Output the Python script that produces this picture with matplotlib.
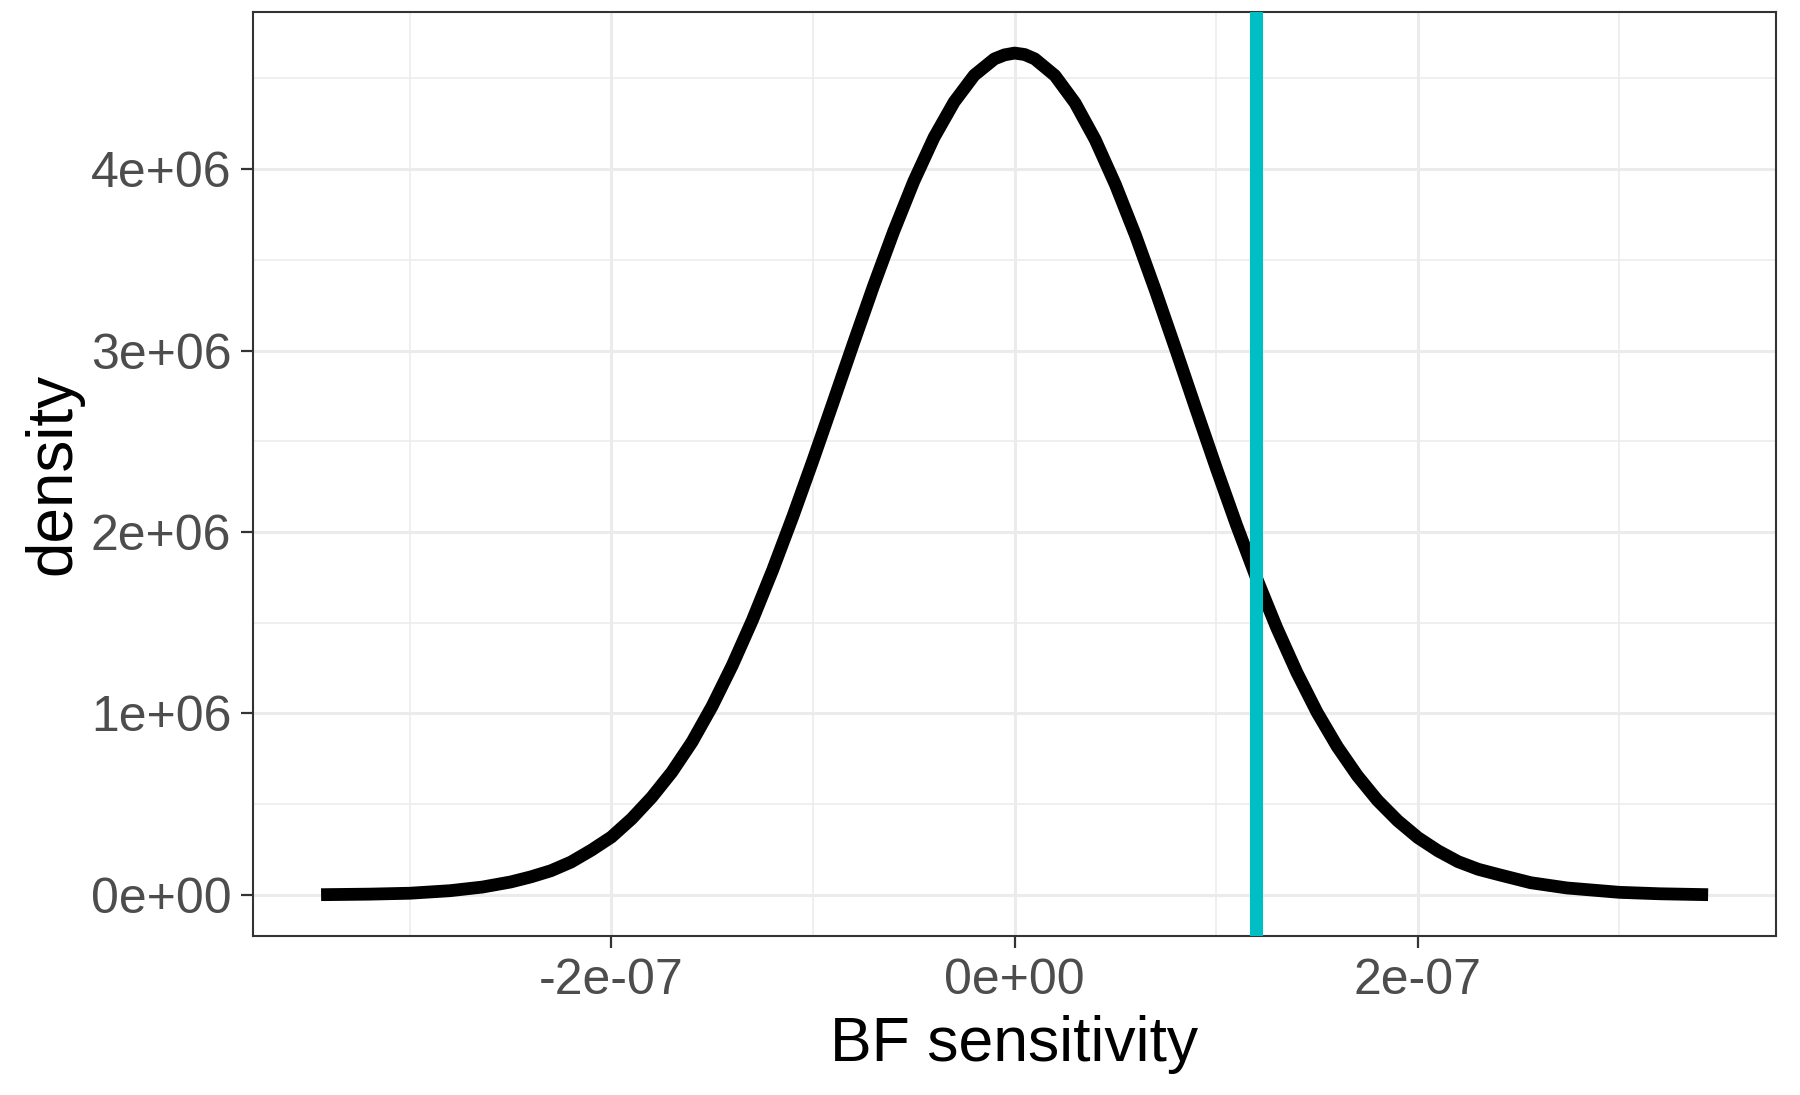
import matplotlib
matplotlib.use("Agg")
import matplotlib.pyplot as plt
from matplotlib.ticker import FixedLocator

plt.rcParams['font.family'] = ['Liberation Sans', 'DejaVu Sans']

# density curve (x in units of 1e-7, density in units of 1e6)
curve_x = [-3.44, -3.20, -3.00, -2.80, -2.64, -2.50, -2.40, -2.30, -2.20, -2.10,
           -2.00, -1.90, -1.80, -1.70, -1.60, -1.50, -1.40, -1.30, -1.20, -1.10,
           -1.00, -0.90, -0.80, -0.70, -0.60, -0.50, -0.40, -0.30, -0.20, -0.10,
           -0.05, 0.00, 0.05, 0.10, 0.20, 0.30, 0.40, 0.50, 0.60, 0.70,
           0.80, 0.90, 1.00, 1.10, 1.20, 1.30, 1.40, 1.50, 1.60, 1.70,
           1.80, 1.90, 2.00, 2.10, 2.20, 2.30, 2.41, 2.56, 2.74, 3.00,
           3.20, 3.44]
curve_y = [0.000, 0.003, 0.008, 0.022, 0.042, 0.070, 0.098, 0.132, 0.180, 0.245,
           0.318, 0.418, 0.537, 0.676, 0.842, 1.040, 1.265, 1.515, 1.790, 2.085,
           2.395, 2.715, 3.038, 3.355, 3.656, 3.933, 4.174, 4.370, 4.518, 4.608,
           4.630, 4.640, 4.632, 4.608, 4.516, 4.365, 4.162, 3.915, 3.634, 3.326,
           3.004, 2.676, 2.353, 2.040, 1.745, 1.472, 1.225, 1.006, 0.817, 0.656,
           0.520, 0.408, 0.315, 0.242, 0.182, 0.140, 0.108, 0.066, 0.037, 0.013,
           0.005, 0.000]
observed_x = 1.198  # vertical marker, 1e-7 units

x_major = [-2e-7, 0, 2e-7]
x_labels = ['-2e-07', '0e+00', '2e-07']
x_minor = [-3e-7, -1e-7, 1e-7, 3e-7]
y_major = [0, 1e6, 2e6, 3e6, 4e6]
y_labels = ['0e+00', '1e+06', '2e+06', '3e+06', '4e+06']
y_minor = [0.5e6, 1.5e6, 2.5e6, 3.5e6, 4.5e6]

fig = plt.figure(figsize=(18, 10.95), dpi=100)
ax = fig.add_axes([0.1403, 0.1455, 0.9867 - 0.1403, 0.9893 - 0.1455])

xs = [v * 1e-7 for v in curve_x]
ys = [v * 1e6 for v in curve_y]
ax.plot(xs, ys, color='black', lw=9.2, solid_capstyle='butt', solid_joinstyle='round', zorder=3)
ax.axvline(observed_x * 1e-7, color='#00BFC4', lw=9.4, zorder=4)

ax.set_xlim(-3.78e-7, 3.777e-7)
ax.set_ylim(-0.226e6, 4.868e6)

ax.xaxis.set_major_locator(FixedLocator(x_major))
ax.xaxis.set_minor_locator(FixedLocator(x_minor))
ax.yaxis.set_major_locator(FixedLocator(y_major))
ax.yaxis.set_minor_locator(FixedLocator(y_minor))
ax.set_xticklabels(x_labels)
ax.set_yticklabels(y_labels)

ax.grid(which='major', color='#EBEBEB', lw=2.2, zorder=0)
ax.grid(which='minor', color='#EBEBEB', lw=1.1, zorder=0)
ax.set_axisbelow(True)

for s in ax.spines.values():
    s.set_color('#333333')
    s.set_linewidth(1.5)

ax.tick_params(which='major', length=8.3, width=1.6, color='#333333',
               labelsize=36, labelcolor='#4D4D4D', pad=7)
ax.tick_params(axis='x', which='major', pad=8)
ax.tick_params(which='minor', length=0)

ax.set_xlabel('BF sensitivity', fontsize=45, color='black', labelpad=8)
ax.set_ylabel('density', fontsize=46, color='black', labelpad=5)

fig.savefig('out.png', dpi=100, facecolor='white')
